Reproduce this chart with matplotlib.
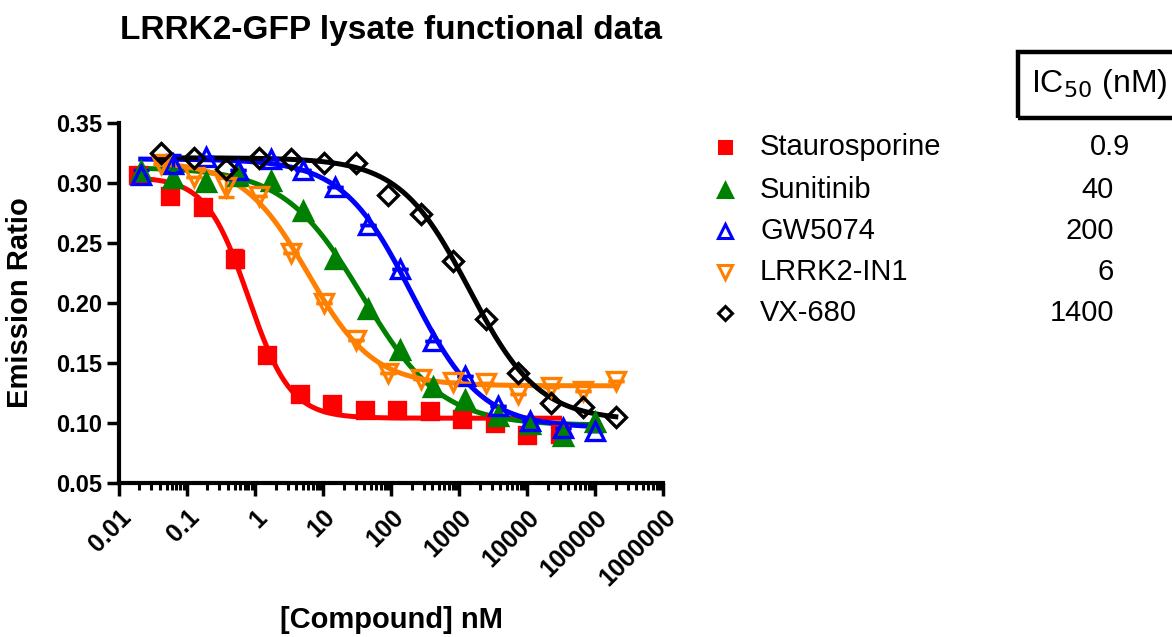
import numpy as np
import matplotlib
matplotlib.use("Agg")
import matplotlib.pyplot as plt
from matplotlib.lines import Line2D
from matplotlib.patches import Rectangle
from matplotlib.ticker import FixedLocator, LogLocator, NullFormatter

plt.rcParams["font.family"] = ["Liberation Sans", "DejaVu Sans"]

# ==========================
# DATOS
# ==========================

compuestos = ["Staurosporine", "Sunitinib", "GW5074", "LRRK2-IN1", "VX-680"]
ic50_txt = ["0.9", "40", "200", "6", "1400"]

# concentraciones (nM), diluciones 1:3
conc_30k = [0.0188, 0.0564, 0.169, 0.508, 1.52, 4.57, 13.7, 41.2,
            123, 370, 1111, 3333, 10000, 30000]
conc_100k = [0.0209, 0.0627, 0.188, 0.565, 1.69, 5.08, 15.2, 45.7,
             137, 412, 1235, 3704, 11111, 33333, 100000]
conc_200k = [0.0418, 0.125, 0.376, 1.13, 3.39, 10.2, 30.5, 91.4,
             274, 823, 2469, 7407, 22222, 66667, 200000]

stauro = [0.307, 0.289, 0.280, 0.237, 0.157, 0.124, 0.116, 0.111,
          0.111, 0.110, 0.103, 0.100, 0.090, 0.091]
stauro_err = [0, 0, 0, 0.007, 0, 0, 0, 0, 0, 0, 0, 0, 0, 0]

sunit = [0.310, 0.304, 0.301, 0.306, 0.302, 0.277, 0.237, 0.195,
         0.161, 0.130, 0.119, 0.106, 0.099, 0.089, 0.101]

gw = [0.307, 0.316, 0.322, 0.311, 0.320, 0.311, 0.297, 0.265,
      0.228, 0.168, 0.139, 0.114, 0.102, 0.096, 0.093]
gw_err = [0.004, 0.007, 0, 0, 0, 0, 0, 0, 0, 0, 0, 0, 0, 0, 0]

lrrk = [0.316, 0.305, 0.297, 0.289, 0.242, 0.200, 0.169, 0.142,
        0.137, 0.134, 0.133, 0.124, 0.130, 0.127, 0.135]
lrrk_err = [0, 0, 0.009, 0, 0, 0, 0, 0, 0, 0, 0, 0, 0, 0, 0]

vx = [0.325, 0.321, 0.312, 0.321, 0.320, 0.317, 0.317, 0.290,
      0.274, 0.235, 0.187, 0.142, 0.117, 0.113, 0.105]

# parametros del ajuste 4PL: top, bottom, IC50 (nM), pendiente
top = [0.305, 0.313, 0.320, 0.318, 0.321]
bottom = [0.104, 0.098, 0.096, 0.131, 0.102]
ic50_fit = [0.8, 38, 200, 6, 1400]
hill = [1.4, 0.75, 0.85, 0.9, 0.85]

colores = ["#FF0000", "#008000", "#0000FF", "#FF8000", "#000000"]
marcadores = ["s", "^", "^", "v", "D"]
rellenos = [True, True, False, False, False]

series = [
    (conc_30k, stauro, stauro_err),
    (conc_100k, sunit, None),
    (conc_100k, gw, gw_err),
    (conc_200k, lrrk, lrrk_err),
    (conc_200k, vx, None),
]

# ==========================
# FIGURA
# ==========================

fig = plt.figure(figsize=(11.72, 6.37), dpi=100)
ax = fig.add_axes([0.1015, 0.2418, 0.4645, 0.5651])

for i, (xs, ys, err) in enumerate(series):

    xs = np.array(xs)
    xx = np.logspace(np.log10(xs.min()), np.log10(xs.max()), 300)
    yy = bottom[i] + (top[i] - bottom[i]) / (1 + (xx / ic50_fit[i]) ** hill[i])

    ax.plot(xx, yy, color=colores[i], lw=3.6, zorder=2 + i * 0.1)

    ms = 11 if marcadores[i] == "s" else (10.5 if marcadores[i] == "D" else 12.5)
    fc = colores[i] if rellenos[i] else "none"

    if err is not None:
        ax.errorbar(xs, ys, yerr=err, fmt="none", ecolor=colores[i],
                    elinewidth=2.5, capsize=6, capthick=2.5, zorder=3)

    ax.plot(xs, ys, ls="none", marker=marcadores[i], ms=ms,
            mfc=fc, mec=colores[i], mew=2.4, zorder=3 + i * 0.1,
            clip_on=False)

ax.set_xscale("log")
ax.set_xlim(0.01, 1e6)
ax.set_ylim(0.05, 0.35)

decadas = [0.01, 0.1, 1, 10, 100, 1000, 10000, 100000, 1000000]
etiquetas_x = ["0.01", "0.1", "1", "10", "100", "1000", "10000",
               "100000", "1000000"]
ax.xaxis.set_major_locator(FixedLocator(decadas))
ax.xaxis.set_minor_locator(LogLocator(base=10, subs=np.arange(2, 10)))
ax.xaxis.set_minor_formatter(NullFormatter())
ax.set_xticklabels(etiquetas_x, rotation=45, ha="right", va="top",
                   rotation_mode="anchor", fontweight="bold", fontsize=18)

yt = [0.05, 0.10, 0.15, 0.20, 0.25, 0.30, 0.35]
ax.set_yticks(yt)
ax.set_yticklabels([f"{v:.2f}" for v in yt], fontweight="bold", fontsize=17)

for s in ["top", "right"]:
    ax.spines[s].set_visible(False)
for s in ["left", "bottom"]:
    ax.spines[s].set_linewidth(3)

ax.tick_params(axis="both", which="major", length=9, width=2.5, pad=3)
ax.tick_params(axis="x", which="minor", length=5, width=2.2)
ax.tick_params(axis="x", which="major", pad=7)

ax.set_ylabel("Emission Ratio", fontsize=21, fontweight="bold", labelpad=16)

fig.text(392 / 1172, 1 - 620 / 637, "[Compound] nM", ha="center",
         va="center", fontsize=21, fontweight="bold")
fig.text(391 / 1172, 1 - 31 / 637, "LRRK2-GFP lysate functional data",
         ha="center", va="center", fontsize=24, fontweight="bold")

# ==========================
# LEYENDA
# ==========================

filas_y = [147, 190, 231, 272, 313]

for i, nombre in enumerate(compuestos):

    yf = 1 - filas_y[i] / 637
    ms = 9 if marcadores[i] == "s" else (7.5 if marcadores[i] == "D" else 10)
    fc = colores[i] if rellenos[i] else "none"

    fig.add_artist(Line2D([725 / 1172], [yf], transform=fig.transFigure,
                          ls="none", marker=marcadores[i], ms=ms, mfc=fc,
                          mec=colores[i], mew=2.2))

    fig.text(760 / 1172, yf, nombre, ha="left", va="center", fontsize=21)

    x_der = 1130 if "." in ic50_txt[i] else 1114
    fig.text(x_der / 1172, yf, ic50_txt[i], ha="right", va="center",
             fontsize=21)

fig.add_artist(Rectangle((1018 / 1172, 1 - 118 / 637), 200 / 1172, 66 / 637,
                         transform=fig.transFigure, fill=False, lw=3.2,
                         ec="black"))
fig.text(1031 / 1172, 1 - 84 / 637, "IC$_{50}$ (nM)", ha="left",
         va="center", fontsize=23)

plt.savefig("out.png", dpi=100)
plt.close()
